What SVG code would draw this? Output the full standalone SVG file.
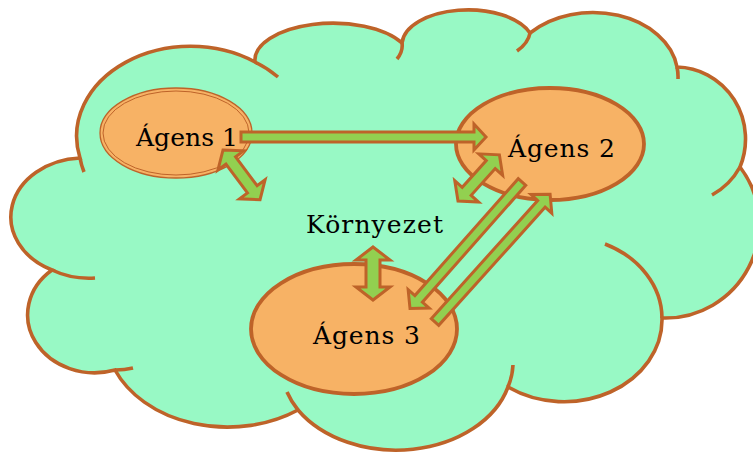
<svg xmlns="http://www.w3.org/2000/svg" width="753" height="453" viewBox="0 0 753 453">
  <style>
    .cloud { fill: #98F9C5; stroke: none; }
    .cloud-edge { fill: none; stroke: #BE6329; stroke-width: 3.6; stroke-linecap: butt; }
    .agent { fill: #F7B265; stroke: #BE6329; stroke-width: 3.8; }
    .agent-thin { fill: #F7B265; stroke: #BE6329; stroke-width: 1.3; }
    .agent-inner { fill: none; stroke: #BE6329; stroke-width: 1; }
    .label { font-family: "DejaVu Serif", "Liberation Serif", serif; font-size: 25px; fill: #000000; }
    .arrow { fill: #92D050; stroke: #BE6329; stroke-width: 3; stroke-linejoin: miter; stroke-miterlimit: 6; }
  </style>
  <defs>
    <path id="dbl" d="M0,0 L13,-16 L13,-6 L49,-6 L49,-16 L62,0 L49,16 L49,6 L13,6 L13,16 Z"/>
  </defs>

  <g id="environment">
    <path class="cloud" d="M80,158 A114 90 0 0 1 255,62 A78 37 0 0 1 402,43 A66 35 0 0 1 530,33 A85 63 0 0 1 677,67 A70 72 0 0 1 740,167 A94 94 0 0 1 662,318 A98 82 0 0 1 508,387 A116 86 0 0 1 298,410 A122 93 0 0 1 115,370 A67 58 0 0 1 52,270 A73 59 0 0 1 80,158 Z"/>
    <path class="cloud-edge" d="M80,158 A114 90 0 0 1 255,62 A78 37 0 0 1 402,43 A66 35 0 0 1 530,33 A85 63 0 0 1 677,67 A70 72 0 0 1 740,167 A94 94 0 0 1 662,318 A98 82 0 0 1 508,387 A116 86 0 0 1 298,410 A122 93 0 0 1 115,370 A67 58 0 0 1 52,270 A73 59 0 0 1 80,158 Z"/>
    <path class="cloud-edge" d="M84,172 A114 90 0 0 1 80,158 M255,62 A114 90 0 0 1 278,77 M402,43 A78 37 0 0 1 397,59 M530,33 A66 35 0 0 1 517,51 M677,67 A85 63 0 0 1 678,79 M740,167 A70 72 0 0 1 712,195 M605,244 A98 82 0 0 1 662,318 M513,365 A116 86 0 0 1 508,387 M298,410 A116 86 0 0 1 287,392 M133,368 A67 58 0 0 1 115,370 M95,278 A73 59 0 0 1 52,270"/>
    <text class="label" x="306" y="233" textLength="137" lengthAdjust="spacing">Környezet</text>
  </g>

  <g id="agens1">
    <ellipse class="agent-thin" cx="176" cy="133" rx="76" ry="45"/>
    <ellipse class="agent-inner" cx="176" cy="133" rx="73" ry="42"/>
    <text class="label" x="136" y="146" textLength="102" lengthAdjust="spacing">Ágens 1</text>
  </g>

  <g id="agens2">
    <ellipse class="agent" cx="550" cy="144" rx="94" ry="56"/>
    <text class="label" x="508" y="157" textLength="107" lengthAdjust="spacing">Ágens 2</text>
  </g>

  <g id="agens3">
    <ellipse class="agent" cx="354" cy="329" rx="103" ry="65"/>
    <text class="label" x="313" y="344" textLength="107" lengthAdjust="spacing">Ágens 3</text>
  </g>

  <g id="connectors">
    <path class="arrow" transform="translate(241,137)" d="M0,-5 L233,-5 L233,-13 L245,0 L233,13 L233,5 L0,5 Z"/>
    <use href="#dbl" class="arrow" transform="translate(223,150) rotate(53.3)"/>
    <use href="#dbl" class="arrow" transform="translate(458,201) rotate(-48.1)"/>
    <path class="arrow" transform="translate(373,247) rotate(90)" d="M0,0 L13,-17 L13,-7 L40,-7 L40,-17 L53,0 L40,17 L40,7 L13,7 L13,17 Z"/>
    <path class="arrow" transform="translate(522,182) rotate(131.5)" d="M0,-5 L156,-5 L156,-14 L169,0 L156,14 L156,5 L0,5 Z"/>
    <path class="arrow" transform="translate(435,322) rotate(-48)" d="M0,-5 L159,-5 L159,-14 L172,0 L159,14 L159,5 L0,5 Z"/>
  </g>
</svg>
